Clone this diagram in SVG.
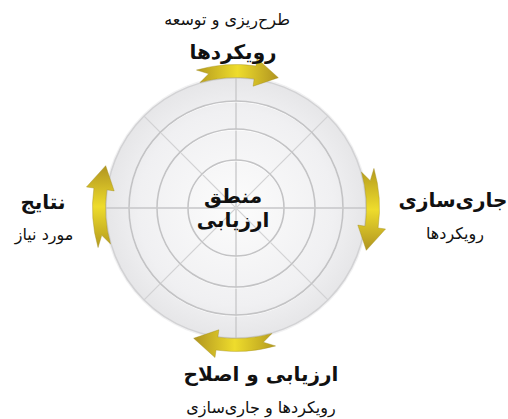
<svg xmlns="http://www.w3.org/2000/svg" width="508" height="419" viewBox="0 0 508 419">
  <style>
    .t { font-family: "DejaVu Sans", "Noto Sans", sans-serif; fill: #111; text-anchor: middle; }
    .b { font-weight: bold; font-size: 20px; }
    .r { font-size: 16px; }
    .ring { fill: none; stroke: #c3c3c5; stroke-width: 1.6; }
    .hl { fill: none; stroke: #ffffff; stroke-width: 1; }
    .spoke { stroke: #c6c6c8; stroke-width: 1.3; }
    .diag { stroke: #d2d2d4; stroke-width: 1.3; }
    .arrow { fill: url(#gold); stroke: #a08a18; stroke-width: 0.4; }
  </style>
  <defs>
    <radialGradient id="disc" cx="0.5" cy="0.5" r="0.5">
      <stop offset="0" stop-color="#fcfcfc"/>
      <stop offset="0.75" stop-color="#f0f0f2"/>
      <stop offset="1" stop-color="#e6e6e8"/>
    </radialGradient>
    <linearGradient id="gold" x1="0" y1="0" x2="1" y2="0">
      <stop offset="0" stop-color="#b49a1e"/>
      <stop offset="0.5" stop-color="#eedc2c"/>
      <stop offset="1" stop-color="#b09420"/>
    </linearGradient>
    <path id="arr" d="M 196.45 70.05 A 143.5 143.5 0 0 1 255.97 65.89 L 257.02 58.47 L 278.33 77.70 L 253.12 86.19 L 254.17 78.77 A 130.5 130.5 0 0 0 200.03 82.55 L 208.68 73.75 Z"/>
  </defs>
  <rect width="508" height="419" fill="#ffffff"/>

  <g id="wheel">
    <circle cx="236" cy="208" r="132" fill="#e8e8ea" opacity="0.6"/>
    <circle cx="236" cy="208" r="130" fill="url(#disc)" stroke="#d2d2d4" stroke-width="1.5"/>
    <line class="spoke" x1="106" y1="208" x2="366" y2="208"/>
    <line class="spoke" x1="236" y1="78" x2="236" y2="338"/>
    <line class="diag" x1="144.1" y1="116.1" x2="327.9" y2="299.9"/>
    <line class="diag" x1="327.9" y1="116.1" x2="144.1" y2="299.9"/>
    <circle class="hl" cx="236" cy="209" r="107"/>
    <circle class="ring" cx="236" cy="208" r="107"/>
    <circle class="hl" cx="236" cy="209" r="79"/>
    <circle class="ring" cx="236" cy="208" r="79"/>
    <circle class="hl" cx="236" cy="209" r="48"/>
    <circle class="ring" cx="236" cy="208" r="48"/>
  </g>

  <g id="connectors">
    <use id="arrow-top" class="arrow" href="#arr"/>
    <use id="arrow-right" class="arrow" href="#arr" transform="rotate(90 236 208)"/>
    <use id="arrow-bottom" class="arrow" href="#arr" transform="rotate(180 236 208)"/>
    <use id="arrow-left" class="arrow" href="#arr" transform="rotate(270 236 208)"/>
  </g>

  <g id="node-center">
    <text class="t b" x="233" y="203" font-size="17">منطق</text>
    <text class="t b" x="233" y="227" font-size="17">ارزیابی</text>
  </g>
  <g id="node-top">
    <text class="t r" x="227" y="25">طرح‌ریزی و توسعه</text>
    <text class="t b" x="233" y="59">رویکردها</text>
  </g>
  <g id="node-right">
    <text class="t b" x="453" y="207">جاری‌سازی</text>
    <text class="t r" x="455" y="239">رویکردها</text>
  </g>
  <g id="node-left">
    <text class="t b" x="43" y="209">نتایج</text>
    <text class="t r" x="44" y="240">مورد نیاز</text>
  </g>
  <g id="node-bottom">
    <text class="t b" x="261" y="381">ارزیابی و اصلاح</text>
    <text class="t r" x="261" y="413">رویکردها و جاری‌سازی</text>
  </g>
</svg>
